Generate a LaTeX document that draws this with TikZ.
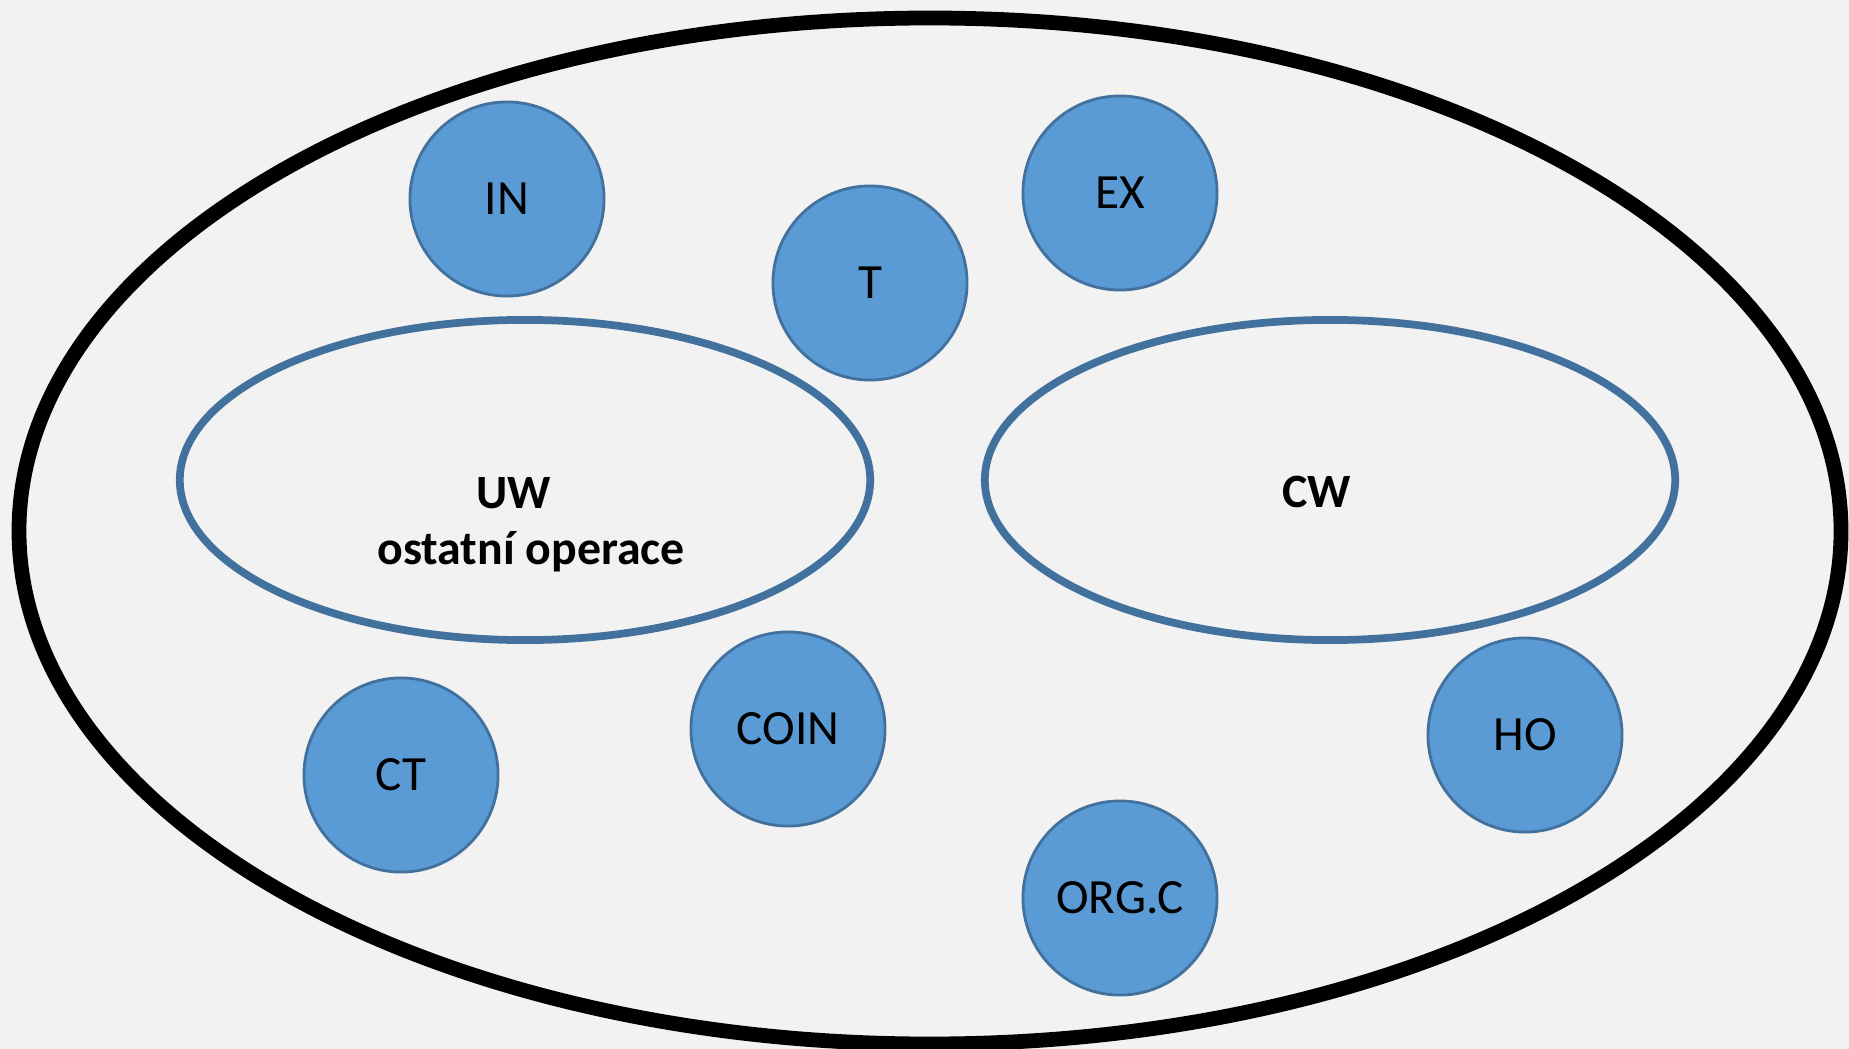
\documentclass[tikz,border=0pt]{standalone}
\usepackage{fontspec}
\setmainfont{Carlito}
\usepackage{xcolor}
\usepackage{tikz}
\usetikzlibrary{shapes.geometric,calc}
\definecolor{bgray}{HTML}{F2F2F2}
\definecolor{cfill}{HTML}{5B9BD5}
\definecolor{cline}{HTML}{41719C}

\begin{document}
\begin{tikzpicture}[x=0.01cm,y=-0.01cm,
  unit/.style={circle,fill=cfill,draw=cline,line width=0.8pt,minimum size=1.94cm,inner sep=0pt,font=\fontsize{14}{16}\selectfont},
  area/.style={ellipse,draw=cline,line width=2.2pt,minimum width=6.9cm,minimum height=3.2cm,inner sep=0pt},
  areatext/.style={font=\fontsize{13.6}{16}\selectfont\bfseries}]
\fill[bgray] (0,0) rectangle (1849,1049);
\useasboundingbox (0,0) rectangle (1849,1049);
% outer boundary
\draw[line width=4.2pt] (930,531) ellipse [x radius=911, y radius=513];
% the two work areas
\node[area] (uw) at (525,480) {};
\node[area] (cw) at (1330,480) {};
\node[areatext] (uwtext) at (514,493) {UW};
\node[areatext] (optext) at (531,552) {ostatní operace};
\node[areatext] (cwtext) at (1317,492) {CW};
% units
\node[unit] (in) at (507,199) {IN};
\node[unit] (t) at (870,283) {T};
\node[unit] (ex) at (1120,193) {EX};
\node[unit] (ct) at (401,775) {CT};
\node[unit] (coin) at (788,729) {COIN};
\node[unit] (orgc) at (1120,898) {ORG.C};
\node[unit] (ho) at (1525,735) {HO};
\end{tikzpicture}
\end{document}
